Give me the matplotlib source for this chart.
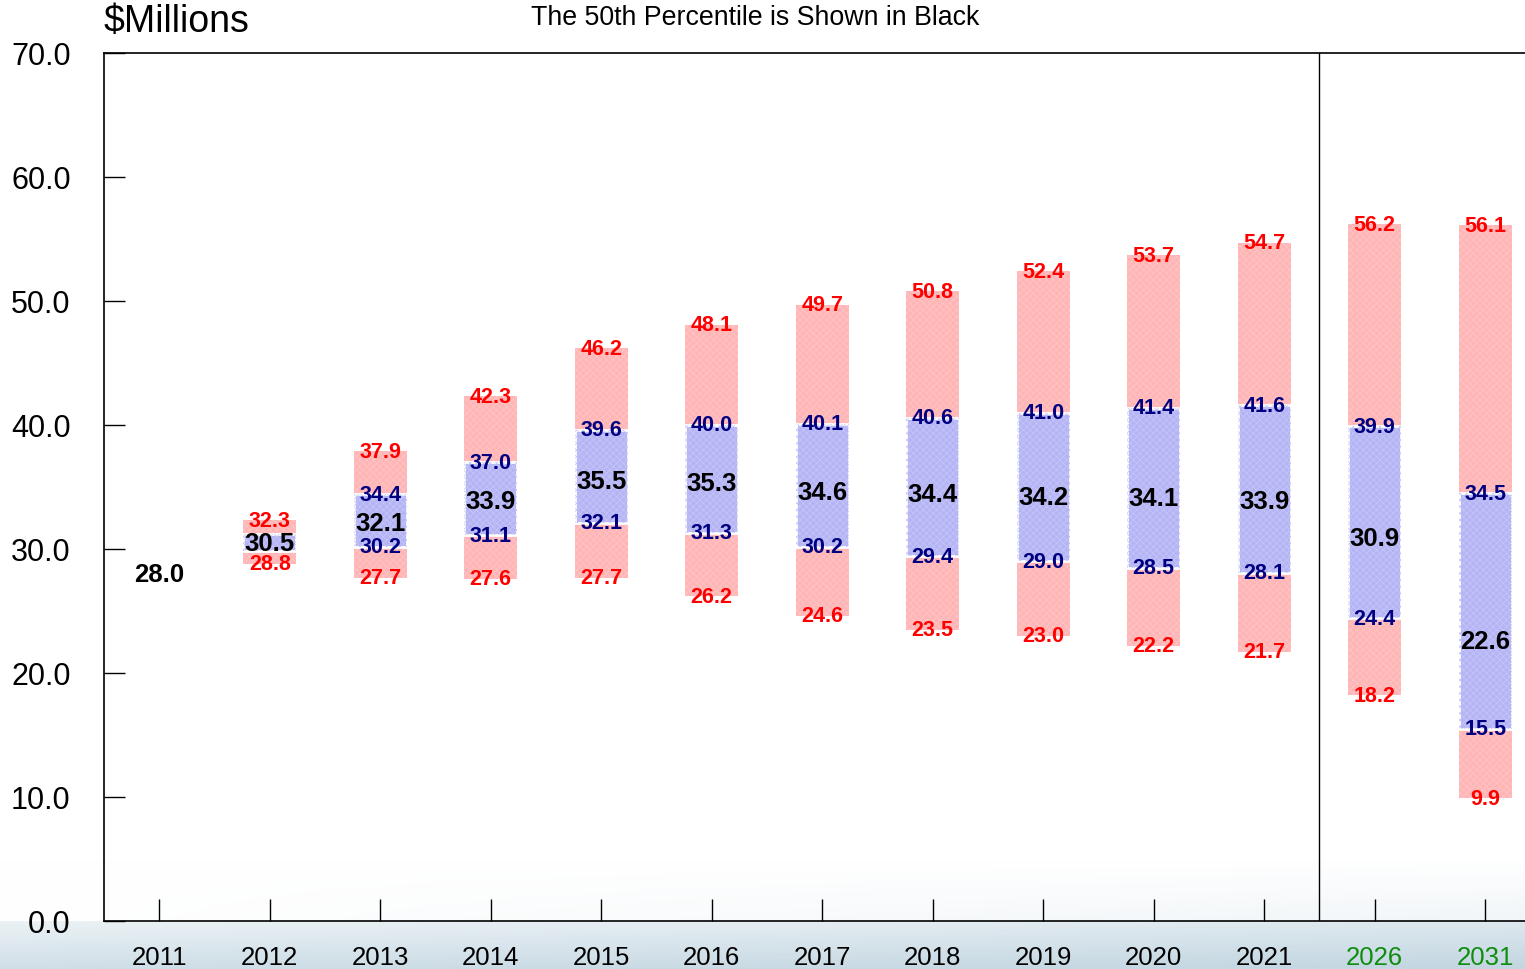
import matplotlib
matplotlib.use('Agg')
import matplotlib.pyplot as plt
import numpy as np

plt.rcParams['font.family'] = ['Liberation Sans', 'DejaVu Sans']
plt.rcParams['hatch.linewidth'] = 0.5

years = ['2011', '2012', '2013', '2014', '2015', '2016', '2017',
         '2018', '2019', '2020', '2021', '2026', '2031']
median = [28.0, 30.5, 32.1, 33.9, 35.5, 35.3, 34.6, 34.4, 34.2, 34.1, 33.9, 30.9, 22.6]
redLow = [np.nan, 28.8, 27.7, 27.6, 27.7, 26.2, 24.6, 23.5, 23.0, 22.2, 21.7, 18.2, 9.9]
redHigh = [np.nan, 32.3, 37.9, 42.3, 46.2, 48.1, 49.7, 50.8, 52.4, 53.7, 54.7, 56.2, 56.1]
blueLow = [np.nan, 29.8, 30.2, 31.1, 32.1, 31.3, 30.2, 29.4, 29.0, 28.5, 28.1, 24.4, 15.5]
blueHigh = [np.nan, 31.2, 34.4, 37.0, 39.6, 40.0, 40.1, 40.6, 41.0, 41.4, 41.6, 39.9, 34.5]
showBlueLabels = [False, False] + [True] * 11
yTicks = [0, 10, 20, 30, 40, 50, 60, 70]

x = np.arange(len(years))
redLow = np.array(redLow)
redHigh = np.array(redHigh)
blueLow = np.array(blueLow)
blueHigh = np.array(blueHigh)

fig = plt.figure(figsize=(15.25, 9.7), dpi=100)

# background: bluish gradient strip along the bottom
bg = fig.add_axes([0, 0, 1, 1], zorder=-5)
h, w = 970, 1525
rows = np.arange(h)[:, None]
cols = np.arange(w)[None, :]
base = np.array([0.78, 0.85, 0.89])
below = rows >= 922
tBelow = np.clip((rows - 922) / 48.0, 0, 1) * 0.5 + 0.35 + 0.25 * cols / w
above = (rows < 922) & (rows > 860)
tAbove = np.clip((rows - 860) / 62.0, 0, 1) * 0.25 * (cols / w)
t = np.where(below, tBelow, np.where(above, tAbove, 0.0))
img = 1 - t[..., None] * (1 - base)
bg.imshow(img, aspect='auto', extent=[0, 1, 0, 1], interpolation='bilinear')
bg.axis('off')

ax = fig.add_axes([104 / 1525, 48 / 970, 1 - 104 / 1525, 868 / 970])
ax.patch.set_alpha(0)

barW = 0.48
ax.bar(x, redHigh - redLow, bottom=redLow, width=barW,
       color='#ffb5b5', edgecolor='none', zorder=2)
ax.bar(x, redHigh - redLow, bottom=redLow, width=barW, facecolor='none',
       edgecolor='#ffc6c6', hatch='xxxxx', linewidth=0, zorder=2)
ax.bar(x, blueHigh - blueLow, bottom=blueLow, width=barW,
       color='#b5b5f5', edgecolor='white', linewidth=2, zorder=3)
ax.bar(x, blueHigh - blueLow, bottom=blueLow, width=barW, facecolor='none',
       edgecolor='#c6c6f8', hatch='xxxxx', linewidth=0, zorder=3)

lblFont = dict(fontsize=15.5, fontweight='bold', ha='center', va='center', zorder=5)
for i in range(len(years)):
    if not np.isnan(redHigh[i]):
        ax.text(x[i], redHigh[i], f'{redHigh[i]:.1f}', color='#ff0000', **lblFont)
        ax.text(x[i], redLow[i], f'{redLow[i]:.1f}', color='#ff0000', **lblFont)
    if showBlueLabels[i]:
        ax.text(x[i], blueHigh[i], f'{blueHigh[i]:.1f}', color='#000080', **lblFont)
        ax.text(x[i], blueLow[i], f'{blueLow[i]:.1f}', color='#000080', **lblFont)
    ax.text(x[i], median[i], f'{median[i]:.1f}', color='black', fontsize=18.5,
            fontweight='bold', ha='center', va='center', zorder=6)

ax.axvline(10.5, color='black', linewidth=1, zorder=4)

ax.set_xlim(-0.5, 12.36)
ax.set_ylim(0, 70)
ax.set_xticks(x)
ax.set_xticklabels(years, fontsize=18.5)
for lbl in ax.get_xticklabels()[-2:]:
    lbl.set_color('#108c10')
ax.set_yticks(yTicks)
ax.set_yticklabels([f'{v:.1f}' for v in yTicks], fontsize=22)
ax.tick_params(axis='x', direction='in', length=16, width=1, pad=17)
ax.tick_params(axis='y', direction='in', length=15, width=1, pad=24)
ax.spines['right'].set_visible(False)
for s in ['top', 'left', 'bottom']:
    ax.spines[s].set_linewidth(1.2)

fig.text(104 / 1525, 1 - 22 / 970, '$Millions', fontsize=27, ha='left', va='center')
fig.text(755 / 1525, 1 - 18 / 970, 'The 50th Percentile is Shown in Black',
         fontsize=19.3, ha='center', va='center')

fig.savefig('out.png', dpi=100)
